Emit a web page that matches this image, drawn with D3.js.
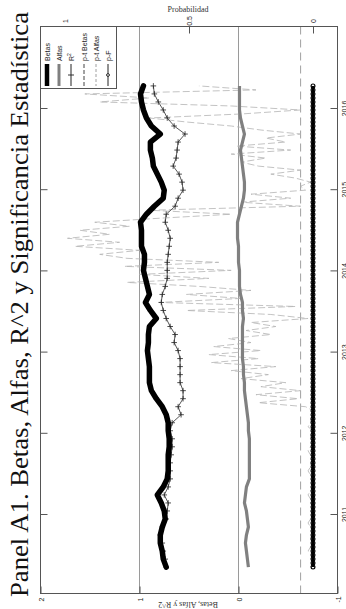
<!DOCTYPE html>
<html>
<head>
<meta charset="utf-8">
<script src="https://cdn.jsdelivr.net/npm/d3@7/dist/d3.min.js"></script>
<style>
  body { margin: 0; background: #fff; }
  svg { display: block; }
</style>
</head>
<body>
<div id="chart"></div>
<script>
// Panel A1: betas, alfas y R^2 de la ventana movil (de 2010.35 a 2016.27)
const inicio = 2010.346;
const fin = 2016.272;

const betas = [0.73, 0.76, 0.77, 0.79, 0.79, 0.77, 0.74, 0.75, 0.78, 0.82,
  0.76, 0.72, 0.71, 0.71, 0.71, 0.70, 0.70, 0.71, 0.71, 0.73,
  0.77, 0.83, 0.88, 0.90, 0.90, 0.90, 0.91, 0.92, 0.91, 0.91,
  0.90, 0.83, 0.89, 0.94, 0.90, 0.92, 0.94, 0.96, 0.95, 0.95,
  0.98, 0.98, 0.98, 0.99, 0.93, 0.85, 0.76, 0.75, 0.78, 0.82,
  0.86, 0.87, 0.89, 0.89, 0.79, 0.88, 0.93, 0.96, 0.98, 0.99, 0.96];

const alfas = [-0.10, -0.09, -0.08, -0.07, -0.08, -0.10, -0.09, -0.08, -0.06, -0.07,
  -0.08, -0.11, -0.11, -0.11, -0.11, -0.11, -0.11, -0.10, -0.10, -0.09,
  -0.08, -0.07, -0.06, -0.06, -0.05, -0.05, -0.04, -0.04, -0.04, -0.04,
  -0.04, -0.05, -0.04, -0.04, -0.02, -0.01, -0.01, -0.01, 0.00, 0.00,
  0.00, 0.01, 0.01, 0.01, -0.01, -0.03, -0.05, -0.06, -0.06, -0.05,
  -0.04, -0.03, -0.02, -0.04, -0.06, -0.04, -0.02, -0.01, -0.01, -0.01, -0.01];

const r2 = [0.73, 0.74, 0.76, 0.77, 0.79, 0.77, 0.73, 0.72, 0.71, 0.75,
  0.71, 0.69, 0.69, 0.69, 0.68, 0.67, 0.67, 0.69, 0.67, 0.58,
  0.61, 0.56, 0.56, 0.59, 0.59, 0.59, 0.59, 0.61, 0.65, 0.64,
  0.69, 0.73, 0.76, 0.78, 0.77, 0.74, 0.72, 0.72, 0.72, 0.71,
  0.70, 0.69, 0.71, 0.74, 0.73, 0.64, 0.61, 0.56, 0.57, 0.60,
  0.66, 0.63, 0.62, 0.61, 0.54, 0.65, 0.72, 0.76, 0.81, 0.85, 0.86];

const ptBetas = [0.00, 0.00, 0.00, 0.00, 0.00, 0.00, 0.00, 0.00, 0.00, 0.00,
  0.00, 0.00, 0.00, 0.00, 0.00, 0.00, 0.00, 0.00, 0.00, 0.00,
  0.00, 0.00, 0.00, 0.00, 0.00, 0.00, 0.00, 0.00, 0.00, 0.00,
  0.00, 0.00, 0.00, 0.00, 0.00, 0.00, 0.00, 0.00, 0.00, 0.00,
  0.00, 0.00, 0.00, 0.00, 0.00, 0.00, 0.00, 0.00, 0.00, 0.00,
  0.00, 0.00, 0.00, 0.00, 0.00, 0.00, 0.00, 0.00, 0.00, 0.00, 0.00];

// p-valores mas finos (121 observaciones)
const ptAlfas = [0.01, 0.00, 0.01, 0.00, 0.02, 0.01, 0.00, 0.01, 0.01, 0.00,
  0.01, 0.02, 0.01, 0.00, 0.01, 0.00, 0.01, 0.01, 0.02, 0.01,
  0.00, 0.01, 0.00, 0.01, 0.02, 0.01, 0.01, 0.00, 0.01, 0.02,
  0.01, 0.00, 0.01, 0.01, 0.00, 0.02, 0.01, 0.01, 0.00,
  0.00, 0.03, 0.22, 0.06, 0.23, 0.05, 0.21, 0.11, 0.29, 0.18,
  0.33, 0.15, 0.41, 0.22, 0.42, 0.21, 0.40, 0.25, 0.34, 0.17,
  0.27, 0.15, 0.25, 0.02, 0.17, 0.51, 0.07, 0.62, 0.29, 0.51,
  0.25, 0.46, 0.75, 0.42, 0.70, 0.33, 0.76, 0.38, 0.75, 0.86,
  0.70, 0.96, 0.78, 0.99, 0.82, 0.94, 0.74, 0.88, 0.62, 0.33,
  0.66, 0.05, 0.29, 0.09, 0.25, 0.03, 0.05, 0.01, 0.07, 0.17,
  0.05, 0.22, 0.29, 0.19, 0.33, 0.09, 0.31, 0.11, 0.19, 0.05,
  0.21, 0.33, 0.51, 0.66, 0.29, 0.05, 0.33, 0.86, 0.66, 0.92,
  0.23, 0.46];

const pF = [0, 0, 0, 0, 0, 0, 0, 0, 0, 0, 0, 0, 0, 0, 0, 0, 0, 0, 0, 0,
  0, 0, 0, 0, 0, 0, 0, 0, 0, 0, 0, 0, 0, 0, 0, 0, 0, 0, 0, 0,
  0, 0, 0, 0, 0, 0, 0, 0, 0, 0, 0, 0, 0, 0, 0, 0, 0, 0, 0, 0,
  0, 0, 0, 0, 0, 0, 0, 0, 0, 0, 0, 0, 0, 0, 0, 0, 0, 0, 0, 0,
  0, 0, 0, 0, 0, 0, 0, 0, 0, 0, 0, 0, 0, 0, 0, 0, 0, 0, 0, 0,
  0, 0, 0, 0, 0, 0, 0, 0, 0, 0, 0, 0, 0, 0, 0, 0, 0, 0, 0, 0, 0];

const anios = [2011, 2012, 2013, 2014, 2015, 2016];
const ticksValor = [-1, 0, 1, 2];
const ticksProb = [0, 0.5, 1];
const lineasGuia = [0, 1];
const nivelSig = 0.05;
const titulo = 'Panel A1. Betas, Alfas, R^2 y Significancia Estadística';

// la figura original esta girada 90 grados: el tiempo corre de abajo hacia arriba
const W = 346, H = 609;
const box = { left: 40.5, right: 337.5, top: 26.5, bottom: 593.5 };
const sans = 'Liberation Sans, Arial, sans-serif';
const serif = 'Liberation Serif, Times New Roman, serif';

const svg = d3.select('#chart').append('svg')
  .attr('width', W)
  .attr('height', H);

const xV = d3.scaleLinear().domain([-1, 2]).range([box.right, box.left]);
const xP = d3.scaleLinear().domain([0, 1]).range([313, 65]);
const yT = d3.scaleLinear().domain([2011, 2016]).range([514, 108]);

const serie = (vals) => vals.map((v, i) => ({ t: inicio + i * (fin - inicio) / (vals.length - 1), v: v }));

// titulo
svg.append('text')
  .attr('transform', `translate(28,597) rotate(-90)`)
  .attr('font-family', serif)
  .attr('font-size', 25.5)
  .attr('fill', '#111')
  .attr('textLength', 585)
  .attr('lengthAdjust', 'spacingAndGlyphs')
  .text(titulo);

// lineas guia
svg.append('g').selectAll('line')
  .data(lineasGuia)
  .enter()
  .append('line')
  .attr('x1', d => xV(d)).attr('x2', d => xV(d))
  .attr('y1', box.top).attr('y2', box.bottom)
  .attr('stroke', '#9a9a9a')
  .attr('stroke-width', 1);

svg.append('line')
  .attr('x1', xP(nivelSig)).attr('x2', xP(nivelSig))
  .attr('y1', box.top).attr('y2', box.bottom)
  .attr('stroke', '#a0a0a0')
  .attr('stroke-width', 1)
  .attr('stroke-dasharray', '8,5');

const lineaV = d3.line().x(d => xV(d.v)).y(d => yT(d.t));
const lineaP = d3.line().x(d => xP(d.v)).y(d => yT(d.t));

// p-t Alfas
svg.append('path')
  .datum(serie(ptAlfas))
  .attr('d', lineaP)
  .attr('fill', 'none')
  .attr('stroke', '#b4b4b4')
  .attr('stroke-width', 0.8)
  .attr('stroke-dasharray', '7,3');

// p-t Betas
svg.append('path')
  .datum(serie(ptBetas))
  .attr('d', lineaP)
  .attr('fill', 'none')
  .attr('stroke', '#555')
  .attr('stroke-width', 1)
  .attr('stroke-dasharray', '6,3');

// p-F con puntos
svg.append('path')
  .datum(serie(pF))
  .attr('d', lineaP)
  .attr('fill', 'none')
  .attr('stroke', '#000')
  .attr('stroke-width', 2.5);
svg.append('g').selectAll('circle')
  .data(serie(pF))
  .enter()
  .append('circle')
  .attr('cx', d => xP(d.v))
  .attr('cy', d => yT(d.t))
  .attr('r', 1.9)
  .attr('fill', 'none')
  .attr('stroke', '#000')
  .attr('stroke-width', 1.2);

// Alfas
svg.append('path')
  .datum(serie(alfas))
  .attr('d', lineaV)
  .attr('fill', 'none')
  .attr('stroke', '#808080')
  .attr('stroke-width', 3.2)
  .attr('stroke-linejoin', 'round');

// R^2 con cruces
svg.append('path')
  .datum(serie(r2))
  .attr('d', lineaV)
  .attr('fill', 'none')
  .attr('stroke', '#444')
  .attr('stroke-width', 0.9);
svg.append('g').selectAll('path')
  .data(serie(r2))
  .enter()
  .append('path')
  .attr('d', d => {
    let cx = xV(d.v), cy = yT(d.t);
    return `M${cx - 2.8},${cy}H${cx + 2.8}M${cx},${cy - 2.8}V${cy + 2.8}`;
  })
  .attr('stroke', '#222')
  .attr('stroke-width', 0.8);

// Betas
svg.append('path')
  .datum(serie(betas))
  .attr('d', lineaV)
  .attr('fill', 'none')
  .attr('stroke', '#000')
  .attr('stroke-width', 5.5)
  .attr('stroke-linejoin', 'round')
  .attr('stroke-linecap', 'round');

// ejes
const estiloEje = (g) => {
  g.select('.domain').remove();
  g.selectAll('line').attr('stroke', '#555');
  g.selectAll('text')
    .attr('font-family', sans)
    .attr('font-size', 7)
    .attr('fill', '#222');
};

const ejeAnios = svg.append('g')
  .attr('transform', `translate(${box.right},0)`)
  .call(d3.axisRight(yT).tickValues(anios).tickFormat(d3.format('d')).tickSizeInner(-7).tickSizeOuter(0))
  .call(estiloEje);
ejeAnios.selectAll('text')
  .attr('x', null).attr('dy', null)
  .attr('text-anchor', 'middle')
  .attr('transform', 'translate(9,0) rotate(-90)');

svg.append('g')
  .attr('transform', `translate(${box.left},0)`)
  .call(d3.axisLeft(yT).tickValues(anios).tickFormat('').tickSizeInner(-7).tickSizeOuter(0))
  .call(estiloEje);

const ejeProb = svg.append('g')
  .attr('transform', `translate(0,${box.top})`)
  .call(d3.axisTop(xP).tickValues(ticksProb).tickFormat(d3.format('')).tickSizeInner(-7).tickSizeOuter(0))
  .call(estiloEje);
ejeProb.selectAll('text')
  .attr('y', null).attr('dy', null)
  .attr('text-anchor', 'middle')
  .attr('transform', 'translate(2.5,-5.5) rotate(-90)');

const ejeValor = svg.append('g')
  .attr('transform', `translate(0,${box.bottom})`)
  .call(d3.axisBottom(xV).tickValues(ticksValor).tickFormat(d => d < 0 ? '-' + Math.abs(d) : d).tickSizeInner(-7).tickSizeOuter(0))
  .call(estiloEje);
ejeValor.selectAll('text')
  .attr('y', null).attr('dy', null)
  .attr('text-anchor', 'middle')
  .attr('transform', 'translate(2.5,6) rotate(-90)');

// titulos de ejes
svg.append('text')
  .attr('x', 188).attr('y', 12)
  .attr('text-anchor', 'middle')
  .attr('font-family', serif)
  .attr('font-size', 8)
  .attr('fill', '#333')
  .text('Probabilidad');

svg.append('text')
  .attr('transform', 'translate(188,602) rotate(180)')
  .attr('text-anchor', 'middle')
  .attr('font-family', serif)
  .attr('font-size', 8)
  .attr('fill', '#333')
  .text('Betas, Alfas y R^2');

// marco
svg.append('rect')
  .attr('x', box.left).attr('y', box.top)
  .attr('width', box.right - box.left)
  .attr('height', box.bottom - box.top)
  .attr('fill', 'none')
  .attr('stroke', '#555')
  .attr('stroke-width', 1);

// leyenda
const ley = svg.append('g').attr('class', 'leyenda');
ley.append('rect')
  .attr('x', 40.5).attr('y', 26.5)
  .attr('width', 76).attr('height', 62)
  .attr('fill', '#fff')
  .attr('stroke', '#555');

const items = [
  { nombre: 'Betas', color: '#000', ancho: 4.5, dash: null, marca: null },
  { nombre: 'Alfas', color: '#808080', ancho: 3, dash: null, marca: null },
  { nombre: 'R', color: '#222', ancho: 1, dash: null, marca: 'cruz' },
  { nombre: 'p-t Betas', color: '#444', ancho: 1, dash: '4,2', marca: null },
  { nombre: 'p-t Alfas', color: '#888', ancho: 0.8, dash: '3,2', marca: null },
  { nombre: 'p-F', color: '#222', ancho: 1, dash: null, marca: 'punto' }
];
const colX = [47, 59, 71, 84, 96, 108];

items.forEach((it, i) => {
  let cx = colX[i];
  ley.append('line')
    .attr('x1', cx).attr('x2', cx)
    .attr('y1', 64).attr('y2', 86)
    .attr('stroke', it.color)
    .attr('stroke-width', it.ancho)
    .attr('stroke-dasharray', it.dash);
  if (it.marca === 'cruz') {
    ley.append('path')
      .attr('d', `M${cx - 3},75H${cx + 3}`)
      .attr('stroke', it.color)
      .attr('stroke-width', 0.9);
  }
  if (it.marca === 'punto') {
    ley.append('circle')
      .attr('cx', cx).attr('cy', 75).attr('r', 1.4)
      .attr('fill', '#fff')
      .attr('stroke', it.color);
  }
  let t = ley.append('text')
    .attr('transform', `translate(${cx + 2.5},61) rotate(-90)`)
    .attr('font-family', sans)
    .attr('font-size', 7)
    .attr('fill', '#222')
    .text(it.nombre);
  if (it.marca === 'cruz') {
    t.append('tspan')
      .attr('font-size', 5)
      .attr('dy', -3)
      .text('2');
  }
});
</script>
</body>
</html>
